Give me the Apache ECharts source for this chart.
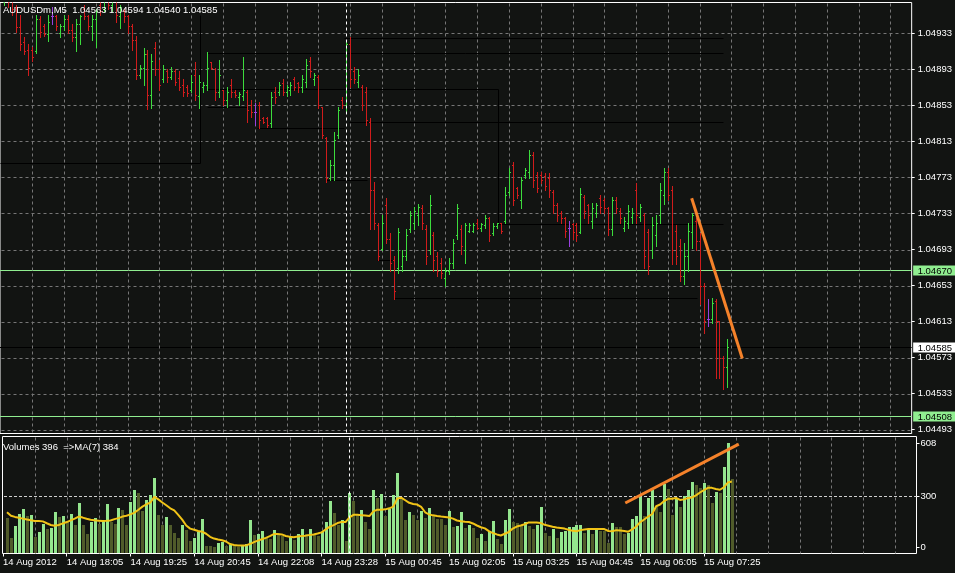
<!DOCTYPE html>
<html><head><meta charset="utf-8">
<script src="https://cdn.jsdelivr.net/npm/echarts@6/dist/echarts.min.js"></script>
<style>html,body{margin:0;padding:0;background:#121412;overflow:hidden}#c{width:955px;height:573px}</style>
</head><body><div id="c"></div>
<script>
// ---------- text ----------
const symbolTitle = 'AUDUSDm,M5  1.04563 1.04594 1.04540 1.04585';
const volumeTitle = 'Volumes 396  =>MA(7) 384';

// ---------- axis ticks ----------
const timeTickIndex = [-1, 15, 31, 47, 63, 79, 95, 111, 127, 143, 159, 175];
const timeTickLabels = ['14 Aug 2012','14 Aug 18:05','14 Aug 19:25','14 Aug 20:45','14 Aug 22:08','14 Aug 23:28',
  '15 Aug 00:45','15 Aug 02:05','15 Aug 03:25','15 Aug 04:45','15 Aug 06:05','15 Aug 07:25'];
const gridLineIndex = [7,15,23,31,39,47,55,63,71,79,87,95,103,111,119,127,135,143,151,159,167,175,183,191,199,207,215,223];
const priceTicks = [1.04493,1.04533,1.04573,1.04613,1.04653,1.04693,1.04733,1.04773,1.04813,1.04853,1.04893,1.04933];
const volumeTicks = [0, 300, 608];

// ---------- OHLC (M5 bars, index 0..182) ----------
const openP = [
1.04968,1.04982,1.04971,1.04962,1.04940,1.04924,1.04915,1.04915,1.04913,1.04949,
1.04941,1.04932,1.04952,1.04952,1.04934,1.04941,1.04949,1.04937,1.04929,1.04943,
1.04960,1.04952,1.04941,1.04949,1.04965,1.04960,1.04971,1.04965,1.04971,1.04952,
1.04958,1.04952,1.04941,1.04926,1.04887,1.04895,1.04910,1.04865,1.04917,1.04893,
1.04882,1.04891,1.04885,1.04891,1.04884,1.04876,1.04873,1.04870,1.04887,1.04863,
1.04873,1.04876,1.04901,1.04893,1.04868,1.04870,1.04859,1.04876,1.04868,1.04862,
1.04863,1.04868,1.04854,1.04846,1.04854,1.04839,1.04839,1.04834,1.04868,1.04868,
1.04878,1.04868,1.04870,1.04882,1.04878,1.04873,1.04879,1.04902,1.04882,1.04885,
1.04851,1.04817,1.04772,1.04787,1.04820,1.04859,1.04854,1.04921,1.04891,1.04879,
1.04874,1.04868,1.04835,1.04759,1.04720,1.04694,1.04742,1.04705,1.04681,1.04672,
1.04675,1.04686,1.04716,1.04723,1.04731,1.04739,1.04716,1.04692,1.04709,1.04686,
1.04678,1.04661,1.04669,1.04678,1.04709,1.04716,1.04692,1.04714,1.04714,1.04723,
1.04717,1.04720,1.04728,1.04711,1.04719,1.04722,1.04725,1.04757,1.04787,1.04761,
1.04748,1.04776,1.04779,1.04798,1.04776,1.04776,1.04775,1.04772,1.04757,1.04742,
1.04734,1.04728,1.04717,1.04721,1.04720,1.04712,1.04751,1.04742,1.04725,1.04734,
1.04750,1.04748,1.04739,1.04716,1.04748,1.04736,1.04717,1.04723,1.04729,1.04759,
1.04729,1.04731,1.04712,1.04692,1.04709,1.04731,1.04753,1.04779,1.04759,1.04714,
1.04697,1.04664,1.04686,1.04712,1.04725,1.04703,1.04653,1.04616,1.04616,1.04636,
1.04614,1.04572,1.04563];
const highP = [
1.04993,1.04988,1.04977,1.04965,1.04954,1.04929,1.04921,1.04918,1.04954,1.04952,
1.04943,1.04954,1.04962,1.04954,1.04943,1.04954,1.04954,1.04943,1.04949,1.04954,
1.04965,1.04954,1.04954,1.04960,1.04971,1.04977,1.04982,1.04977,1.04971,1.04965,
1.04960,1.04954,1.04943,1.04930,1.04898,1.04917,1.04915,1.04910,1.04924,1.04904,
1.04898,1.04893,1.04896,1.04893,1.04891,1.04882,1.04876,1.04887,1.04901,1.04887,
1.04879,1.04912,1.04901,1.04895,1.04904,1.04870,1.04874,1.04882,1.04870,1.04868,
1.04907,1.04870,1.04859,1.04856,1.04857,1.04840,1.04840,1.04868,1.04873,1.04879,
1.04882,1.04876,1.04879,1.04885,1.04879,1.04887,1.04905,1.04907,1.04889,1.04887,
1.04851,1.04818,1.04792,1.04824,1.04851,1.04862,1.04924,1.04929,1.04896,1.04893,
1.04876,1.04873,1.04839,1.04768,1.04722,1.04731,1.04750,1.04711,1.04686,1.04717,
1.04692,1.04716,1.04736,1.04740,1.04744,1.04742,1.04720,1.04753,1.04712,1.04690,
1.04684,1.04673,1.04684,1.04705,1.04744,1.04720,1.04723,1.04723,1.04722,1.04727,
1.04723,1.04731,1.04729,1.04722,1.04723,1.04723,1.04762,1.04783,1.04790,1.04762,
1.04773,1.04784,1.04803,1.04801,1.04779,1.04779,1.04778,1.04778,1.04759,1.04745,
1.04736,1.04729,1.04725,1.04723,1.04722,1.04761,1.04753,1.04744,1.04745,1.04745,
1.04753,1.04750,1.04740,1.04751,1.04751,1.04739,1.04729,1.04742,1.04739,1.04767,
1.04744,1.04734,1.04716,1.04729,1.04731,1.04767,1.04783,1.04784,1.04764,1.04720,
1.04705,1.04700,1.04722,1.04734,1.04728,1.04711,1.04656,1.04638,1.04639,1.04638,
1.04614,1.04575,1.04594];
const lowP = [
1.04965,1.04962,1.04954,1.04935,1.04915,1.04910,1.04887,1.04902,1.04911,1.04929,
1.04930,1.04925,1.04943,1.04937,1.04929,1.04937,1.04934,1.04925,1.04913,1.04921,
1.04949,1.04937,1.04926,1.04918,1.04954,1.04958,1.04960,1.04958,1.04946,1.04939,
1.04946,1.04934,1.04915,1.04882,1.04884,1.04876,1.04849,1.04850,1.04887,1.04870,
1.04879,1.04879,1.04882,1.04876,1.04870,1.04863,1.04863,1.04868,1.04859,1.04850,
1.04868,1.04870,1.04893,1.04859,1.04862,1.04854,1.04851,1.04862,1.04862,1.04854,
1.04859,1.04835,1.04840,1.04831,1.04828,1.04834,1.04829,1.04829,1.04856,1.04865,
1.04865,1.04863,1.04865,1.04870,1.04868,1.04868,1.04874,1.04885,1.04876,1.04850,
1.04817,1.04768,1.04770,1.04770,1.04817,1.04850,1.04846,1.04874,1.04878,1.04873,
1.04848,1.04831,1.04716,1.04716,1.04681,1.04692,1.04700,1.04669,1.04638,1.04667,
1.04669,1.04681,1.04712,1.04716,1.04720,1.04716,1.04677,1.04688,1.04669,1.04664,
1.04661,1.04653,1.04666,1.04673,1.04705,1.04688,1.04678,1.04712,1.04712,1.04716,
1.04714,1.04717,1.04703,1.04709,1.04717,1.04711,1.04722,1.04753,1.04742,1.04750,
1.04739,1.04772,1.04772,1.04762,1.04757,1.04767,1.04759,1.04751,1.04734,1.04725,
1.04723,1.04707,1.04697,1.04705,1.04703,1.04711,1.04728,1.04723,1.04717,1.04729,
1.04734,1.04734,1.04709,1.04709,1.04734,1.04723,1.04714,1.04717,1.04723,1.04723,
1.04725,1.04672,1.04666,1.04684,1.04697,1.04723,1.04744,1.04748,1.04677,1.04677,
1.04658,1.04655,1.04669,1.04695,1.04692,1.04633,1.04600,1.04608,1.04611,1.04550,
1.04550,1.04538,1.04540];
const closeP = [
1.04982,1.04968,1.04960,1.04940,1.04921,1.04913,1.04895,1.04907,1.04949,1.04935,
1.04932,1.04946,1.04952,1.04941,1.04941,1.04949,1.04937,1.04929,1.04943,1.04952,
1.04952,1.04941,1.04949,1.04958,1.04958,1.04971,1.04965,1.04973,1.04954,1.04962,
1.04952,1.04941,1.04926,1.04887,1.04895,1.04910,1.04865,1.04902,1.04893,1.04876,
1.04893,1.04885,1.04891,1.04879,1.04874,1.04868,1.04867,1.04879,1.04865,1.04879,
1.04876,1.04895,1.04895,1.04868,1.04887,1.04859,1.04868,1.04868,1.04865,1.04866,
1.04870,1.04848,1.04846,1.04846,1.04837,1.04835,1.04831,1.04862,1.04862,1.04876,
1.04868,1.04874,1.04876,1.04874,1.04873,1.04882,1.04898,1.04891,1.04887,1.04854,
1.04820,1.04772,1.04787,1.04815,1.04848,1.04854,1.04921,1.04882,1.04882,1.04887,
1.04854,1.04837,1.04759,1.04723,1.04686,1.04723,1.04705,1.04678,1.04647,1.04712,
1.04686,1.04709,1.04731,1.04736,1.04740,1.04723,1.04686,1.04742,1.04681,1.04669,
1.04667,1.04669,1.04678,1.04700,1.04739,1.04697,1.04720,1.04720,1.04720,1.04717,
1.04721,1.04728,1.04709,1.04719,1.04722,1.04714,1.04753,1.04779,1.04748,1.04753,
1.04770,1.04781,1.04798,1.04770,1.04761,1.04770,1.04764,1.04759,1.04742,1.04731,
1.04728,1.04714,1.04717,1.04712,1.04709,1.04755,1.04736,1.04731,1.04739,1.04742,
1.04740,1.04739,1.04716,1.04748,1.04739,1.04728,1.04725,1.04736,1.04734,1.04731,
1.04740,1.04686,1.04675,1.04720,1.04723,1.04759,1.04779,1.04753,1.04692,1.04686,
1.04664,1.04686,1.04714,1.04731,1.04703,1.04653,1.04614,1.04616,1.04634,1.04614,
1.04572,1.04563,1.04585];

// ---------- volumes and their MA(7) ----------
const volumes = [
172,55,125,197,226,181,187,60,90,135,
109,113,205,175,181,148,197,129,257,129,
80,148,173,135,162,251,148,135,228,216,
129,265,333,320,212,275,304,407,187,129,
175,129,84,55,129,99,35,55,90,164,
10,10,5,25,30,10,15,8,3,15,
20,158,70,76,94,60,51,99,80,64,
37,60,41,76,105,76,105,76,66,90,
146,269,199,129,158,35,316,269,191,216,
148,105,333,288,310,183,226,304,434,288,
158,207,187,158,211,172,230,187,168,164,
129,211,119,125,205,113,129,113,55,80,
35,94,156,49,23,160,222,146,140,133,
150,127,105,133,234,82,66,105,58,88,
94,117,120,129,133,82,101,78,101,97,
97,29,140,117,117,78,82,166,181,292,
181,288,335,234,205,370,341,189,283,234,
302,335,380,365,347,374,365,257,322,316,
468,608,396];
const volumeMA7 = [
205,185,178,173,168,163,158,154,154,152,
141,131,126,131,140,148,158,168,180,174,
167,161,158,156,154,155,157,165,171,180,
185,193,203,220,238,251,262,295,280,262,
246,228,216,190,162,128,110,103,96,92,
80,62,52,46,42,35,20,14,12,12,
12,20,31,40,48,56,66,78,78,76,
67,63,60,64,67,69,73,76,81,88,
105,120,130,142,148,148,175,190,190,188,
186,183,210,220,220,222,228,238,285,290,
275,260,253,250,236,205,192,187,183,180,
178,174,168,157,153,150,148,140,128,118,
111,95,84,76,70,80,90,110,122,128,
135,146,146,146,143,132,127,121,116,114,
110,103,97,95,101,105,107,107,107,107,
107,96,95,101,99,96,92,105,122,148,
163,180,195,240,250,270,283,284,288,277,
280,288,291,303,320,334,347,347,340,336,
350,378,384];

// ---------- drawn objects ----------
const levelPrices = [1.04670, 1.04508, 1.04585];          // two green levels + current bid
const blackSegments = [                                    // [x1, p1, x2, p2] in bar index / price
  [-1.125,1.04789,49.25,1.04789],[49.25,1.04789,49.25,1.04954],
  [51,1.04911,181,1.04911],[85.5,1.04928,181,1.04928],
  [51,1.04871,124.25,1.04871],[124.25,1.04871,124.25,1.04721],[124.25,1.04721,181,1.04721],
  [86.75,1.04835,181,1.04835],[63.5,1.04828,85.5,1.04828],[51,1.04851,61,1.04851],
  [81,1.04770,91.25,1.04770],[93.75,1.04681,98,1.04681],[98,1.04639,174.25,1.04639]
];
const priceTrend = [[173, 1.04750], [185.75, 1.04572]];
const volumeTrend = [[155.25, 259], [183.75, 602]];
const cursorIndex = [86];
const volumeLevel = [300];

// ---------- scales / styles ----------
const X_MIN = -1.125, X_MAX = 228.375;
const P_MIN = 1.044886, P_MAX = 1.049674;
const V_MIN = -35, V_MAX = 646;
const FONT = '"Liberation Sans", Arial, sans-serif';
const UP = '#3cdc3c', DOWN = '#d01c1c', DOJI = '#9a40e0';
const VOL_UP = '#94e68e', VOL_DOWN = '#505b2a';
const GRIDC = '#767676';
const LEVEL_STYLE = [
  {line:'#90ee90', box:'#90ee90'},
  {line:'#90ee90', box:'#90ee90'},
  {line:'#000000', box:'#ffffff'}
];

const ohlcData = openP.map((o, i) => [i, o, highP[i], lowP[i], closeP[i]]);
const volData = volumes.map((v, i) => [i, v]);
const maData = volumeMA7.map((v, i) => [i, v]);
const tickLabelMap = {};
timeTickIndex.forEach((k, j) => { tickLabelMap[k] = timeTickLabels[j]; });

function renderOHLC(params, api) {
  const i = api.value(0), o = api.value(1), h = api.value(2), l = api.value(3), c = api.value(4);
  const pH = api.coord([i, h]), pL = api.coord([i, l]), pO = api.coord([i, o]), pC = api.coord([i, c]);
  const x = Math.round(pH[0]) + 0.5;
  const color = c > o ? UP : (c < o ? DOWN : DOJI);
  const st = {stroke: color, lineWidth: 1};
  const yo = Math.round(pO[1]) + 0.5, yc = Math.round(pC[1]) + 0.5;
  return {type: 'group', children: [
    {type: 'line', shape: {x1: x, y1: Math.round(pH[1]), x2: x, y2: Math.round(pL[1]) + 1}, style: st},
    {type: 'line', shape: {x1: x - 1.5, y1: yo, x2: x, y2: yo}, style: st},
    {type: 'line', shape: {x1: x, y1: yc, x2: x + 1.5, y2: yc}, style: st}
  ]};
}
function renderVolume(params, api) {
  const i = api.value(0), v = api.value(1);
  const p = api.coord([i, v]);
  const cs = params.coordSys;
  const bottom = Math.floor(cs.y + cs.height);
  const top = Math.round(p[1]);
  const prev = params.dataIndex > 0 ? volumes[params.dataIndex - 1] : Infinity;
  return {type: 'rect', shape: {x: Math.round(p[0]) - 1, y: top, width: 3, height: bottom - top},
    style: {fill: v > prev ? VOL_UP : VOL_DOWN}};
}
function renderSegment(params, api) {
  const a = api.coord([api.value(0), api.value(1)]), b = api.coord([api.value(2), api.value(3)]);
  const ax = Math.round(a[0]) + 0.5, bx = Math.round(b[0]) + 0.5;
  const ay = Math.round(a[1]) + 0.5, by = Math.round(b[1]) + 0.5;
  return {type: 'line', shape: {x1: ax, y1: ay, x2: bx, y2: by}, style: {stroke: '#000', lineWidth: 1}};
}
function renderLevel(params, api) {
  const p = api.value(0);
  const st = LEVEL_STYLE[params.dataIndex];
  const a = api.coord([X_MIN, p]), b = api.coord([X_MAX, p]);
  const y = Math.round(a[1]) + 0.5;
  return {type: 'group', children: [
    {type: 'line', shape: {x1: a[0], y1: y, x2: b[0], y2: y}, style: {stroke: st.line, lineWidth: 1}},
    {type: 'rect', shape: {x: b[0] + 1.5, y: y - 5, width: 45, height: 10}, style: {fill: st.box}},
    {type: 'text', style: {text: p.toFixed(5), x: b[0] + 6, y: y + 0.5, fill: '#000', font: '9.5px ' + FONT,
      align: 'left', verticalAlign: 'middle'}}
  ]};
}
// whole grid drawn by one item: vertical lines at bar indices, horizontal lines at tick values
function renderGrid(xs, ys, color) {
  return function (params, api) {
    const cs = params.coordSys;
    const kids = [];
    xs.forEach(k => {
      const x = Math.round(api.coord([k, ys.length ? ys[0] : 0])[0]) + 0.5;
      kids.push({type: 'line', shape: {x1: x, y1: cs.y + 1, x2: x, y2: cs.y + cs.height},
        style: {stroke: color, lineWidth: 1, lineDash: [3, 3]}});
    });
    ys.forEach(v => {
      const y = Math.round(api.coord([0, v])[1]) + 0.5;
      kids.push({type: 'line', shape: {x1: cs.x + 1.5, y1: y, x2: cs.x + cs.width, y2: y},
        style: {stroke: color, lineWidth: 1, lineDash: [3, 3]}});
    });
    return {type: 'group', children: kids};
  };
}
function vLine(color, dash) {
  return function (params, api) {
    const cs = params.coordSys;
    const x = Math.round(api.coord([api.value(0), api.value(1)])[0]) + 0.5;
    return {type: 'line', shape: {x1: x, y1: cs.y + 1, x2: x, y2: cs.y + cs.height},
      style: {stroke: color, lineWidth: 1, lineDash: dash}};
  };
}
function hLine(color, dash) {
  return function (params, api) {
    const cs = params.coordSys;
    const y = Math.round(api.coord([api.value(0), api.value(1)])[1]) + 0.5;
    return {type: 'line', shape: {x1: cs.x + 1.5, y1: y, x2: cs.x + cs.width, y2: y},
      style: {stroke: color, lineWidth: 1, lineDash: dash}};
  };
}

const chart = echarts.init(document.getElementById('c'));
const labelBase = {color: '#ffffff', fontSize: 9.5, fontFamily: FONT};
const priceMid = (P_MIN + P_MAX) / 2;
const volMid = (V_MIN + V_MAX) / 2;
const noLine = {show: false, onZero: false};
chart.setOption({
  animation: false,
  backgroundColor: '#121412',
  title: [
    {text: symbolTitle, left: 3, top: 5, padding: 0, z: 20, textStyle: {color: '#ffffff', fontSize: 9.5, fontWeight: 'normal', fontFamily: FONT}},
    {text: volumeTitle, left: 3, top: 442, padding: 0, z: 20, textStyle: {color: '#ffffff', fontSize: 9.5, fontWeight: 'normal', fontFamily: FONT}}
  ],
  grid: [
    {left: -1.5, top: 2.5, width: 918, height: 431, show: true, borderColor: '#ffffff', borderWidth: 1, backgroundColor: 'rgba(0,0,0,0)'},
    {left: -1.5, top: 436.5, width: 918, height: 117, show: true, borderColor: '#ffffff', borderWidth: 1, backgroundColor: 'rgba(0,0,0,0)'}
  ],
  xAxis: [
    {type: 'value', gridIndex: 0, min: X_MIN, max: X_MAX, axisLine: noLine,
      axisTick: {show: false}, axisLabel: {show: false}, splitLine: {show: false}},
    {type: 'value', gridIndex: 1, min: X_MIN, max: X_MAX, position: 'bottom', axisLine: noLine,
      axisTick: {show: true, customValues: timeTickIndex, length: 3, lineStyle: {color: '#ffffff'}},
      axisLabel: Object.assign({customValues: timeTickIndex, align: 'left', margin: 4,
        formatter: v => tickLabelMap[v] || ''}, labelBase),
      splitLine: {show: false}}
  ],
  yAxis: [
    {type: 'value', gridIndex: 0, position: 'right', min: P_MIN, max: P_MAX, axisLine: noLine,
      axisTick: {show: true, customValues: priceTicks, length: 3, lineStyle: {color: '#ffffff'}},
      axisLabel: Object.assign({customValues: priceTicks, margin: 6, formatter: v => v.toFixed(5)}, labelBase),
      splitLine: {show: false}},
    {type: 'value', gridIndex: 1, position: 'right', min: V_MIN, max: V_MAX, axisLine: noLine,
      axisTick: {show: true, customValues: volumeTicks, length: 3, lineStyle: {color: '#ffffff'}},
      axisLabel: Object.assign({customValues: volumeTicks, margin: 4, formatter: v => String(Math.round(v))}, labelBase),
      splitLine: {show: false}}
  ],
  series: [
    {type: 'custom', name: 'levels', xAxisIndex: 0, yAxisIndex: 0, z: 2, renderItem: renderLevel,
      data: levelPrices.map(p => [p]), encode: {y: 0}, silent: true},
    {type: 'custom', name: 'priceGrid', xAxisIndex: 0, yAxisIndex: 0, z: 2, renderItem: renderGrid(gridLineIndex, priceTicks, GRIDC),
      data: [[0, priceMid]], encode: {x: 0, y: 1}, silent: true},
    {type: 'custom', name: 'volumeGrid', xAxisIndex: 1, yAxisIndex: 1, z: 2, renderItem: renderGrid(gridLineIndex, [], GRIDC),
      data: [[0, volMid]], encode: {x: 0, y: 1}, silent: true},
    {type: 'custom', name: 'objects', xAxisIndex: 0, yAxisIndex: 0, z: 2, clip: true, renderItem: renderSegment,
      data: blackSegments, encode: {x: [0, 2], y: [1, 3]}, silent: true},
    {type: 'custom', name: 'AUDUSDm', xAxisIndex: 0, yAxisIndex: 0, z: 3, clip: true, renderItem: renderOHLC,
      data: ohlcData, encode: {x: 0, y: [1, 2, 3, 4]}, silent: true},
    {type: 'line', name: 'trend', xAxisIndex: 0, yAxisIndex: 0, z: 4, data: priceTrend, showSymbol: false,
      lineStyle: {color: '#f5822a', width: 3}, silent: true},
    {type: 'custom', name: 'hlevel', xAxisIndex: 1, yAxisIndex: 1, z: 2, renderItem: hLine('#cfcfcf', [3, 2]),
      data: volumeLevel.map(v => [0, v]), encode: {x: 0, y: 1}, silent: true},
    {type: 'custom', name: 'cursor', xAxisIndex: 0, yAxisIndex: 0, z: 5, renderItem: vLine('#ffffff', [3, 3]),
      data: cursorIndex.map(k => [k, priceMid]), encode: {x: 0, y: 1}, silent: true},
    {type: 'custom', name: 'Volumes', xAxisIndex: 1, yAxisIndex: 1, z: 3, renderItem: renderVolume,
      data: volData, encode: {x: 0, y: 1}, silent: true},
    {type: 'line', name: 'MA(7)', xAxisIndex: 1, yAxisIndex: 1, z: 4, data: maData, showSymbol: false,
      lineStyle: {color: '#f2c417', width: 2}, silent: true},
    {type: 'line', name: 'vtrend', xAxisIndex: 1, yAxisIndex: 1, z: 5, data: volumeTrend, showSymbol: false,
      lineStyle: {color: '#f5822a', width: 3}, silent: true},
    {type: 'custom', name: 'cursor2', xAxisIndex: 1, yAxisIndex: 1, z: 5, renderItem: vLine('#ffffff', [3, 3]),
      data: cursorIndex.map(k => [k, volMid]), encode: {x: 0, y: 1}, silent: true}
  ]
});
</script></body></html>
